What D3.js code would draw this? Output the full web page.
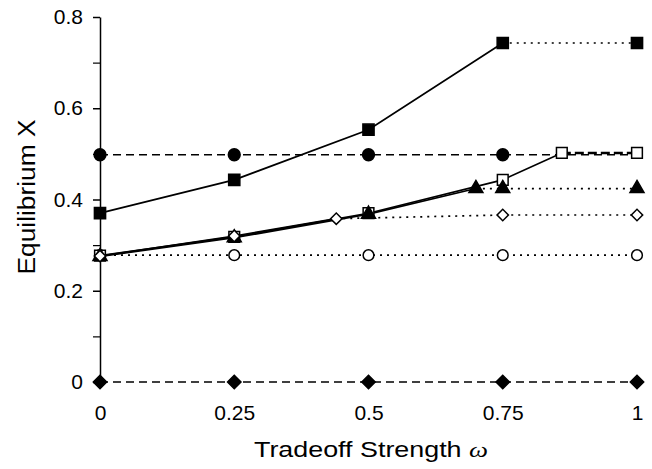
<!DOCTYPE html>
<html>
<head>
<meta charset="utf-8">
<script src="https://cdn.jsdelivr.net/npm/d3@7"></script>
<style>
  body { margin: 0; background: #fff; }
  text { font-family: "Liberation Sans", Arial, sans-serif; fill: #000; }
</style>
</head>
<body>
<svg id="chart" width="652" height="469"></svg>
<script>
// tradeoff strengths and tick labels
var xTicks = [0, 0.25, 0.5, 0.75, 1];
var xTickLabels = ["0", "0.25", "0.5", "0.75", "1"];
var yTicks = [0, 0.2, 0.4, 0.6, 0.8];
var yTickLabels = ["0", "0.2", "0.4", "0.6", "0.8"];

// filled squares
var sqFilledX = [0, 0.25, 0.5, 0.75];
var sqFilledY = [0.37, 0.443, 0.553, 0.743];
var sqFilledTailX = [0.75, 1];
var sqFilledTailY = [0.743, 0.743];

// filled circles
var circFilledX = [0, 0.25, 0.5, 0.75, 1];
var circFilledY = [0.498, 0.498, 0.498, 0.498, 0.498];

// open squares
var sqOpenX = [0, 0.25, 0.5, 0.75, 0.86];
var sqOpenY = [0.277, 0.318, 0.37, 0.443, 0.502];
var sqOpenTailX = [0.86, 1];
var sqOpenTailY = [0.502, 0.502];

// filled triangles
var triX = [0, 0.25, 0.5, 0.7];
var triY = [0.275, 0.316, 0.368, 0.424];
var triTailX = [0.7, 0.75, 1];
var triTailY = [0.424, 0.424, 0.424];

// open diamonds
var diaOpenX = [0, 0.25, 0.44];
var diaOpenY = [0.276, 0.32, 0.358];
var diaOpenTailX = [0.44, 0.75, 1];
var diaOpenTailY = [0.358, 0.366, 0.366];

// open circles
var circOpenX = [0, 0.25, 0.5, 0.75, 1];
var circOpenY = [0.278, 0.278, 0.278, 0.278, 0.278];

// filled diamonds
var diaFilledX = [0, 0.25, 0.5, 0.75, 1];
var diaFilledY = [0, 0, 0, 0, 0];

function pts(xs, ys) { return xs.map(function (x, i) { return { x: x, y: ys[i] }; }); }

var svg = d3.select("#chart");
var margin = { top: 17, left: 100 };
var width = 537, height = 365;
var g = svg.append("g").attr("transform", "translate(" + margin.left + "," + margin.top + ")");

var x = d3.scaleLinear().domain([0, 1]).range([0, width]);
var y = d3.scaleLinear().domain([0, 0.8]).range([height, 0]);

// y axis
var yAxis = g.append("g").call(d3.axisLeft(y).tickValues(yTicks)
    .tickFormat(function (d, i) { return yTickLabels[i]; }).tickSize(7).tickSizeOuter(0));
yAxis.select(".domain").attr("stroke", "#000").attr("stroke-width", 1.5);
yAxis.selectAll(".tick line").attr("stroke-width", 1.5);
yAxis.selectAll("text").style("font-size", "21px").attr("x", -17);
g.append("g").call(d3.axisLeft(y).tickValues([0.1, 0.3, 0.5, 0.7]).tickFormat("").tickSize(7).tickSizeOuter(0))
  .call(function (s) { s.select(".domain").remove(); s.selectAll("line").attr("stroke-width", 1.2); });

// x axis (ticks only)
var xAxis = g.append("g").attr("transform", "translate(0," + height + ")")
  .call(d3.axisBottom(x).tickValues(xTicks).tickFormat(function (d, i) { return xTickLabels[i]; })
    .tickSize(6).tickSizeOuter(0));
xAxis.select(".domain").remove();
xAxis.selectAll(".tick line").attr("stroke-width", 1.5);
xAxis.selectAll("text").style("font-size", "21px").attr("y", 23);

// titles
svg.append("text").attr("transform", "translate(35,197) rotate(-90)")
  .attr("text-anchor", "middle").style("font-size", "23px")
  .attr("textLength", 155).attr("lengthAdjust", "spacingAndGlyphs").text("Equilibrium X");
var xt = svg.append("text").attr("x", 371).attr("y", 457).attr("text-anchor", "middle").style("font-size", "22px")
  .attr("textLength", 234).attr("lengthAdjust", "spacingAndGlyphs");
xt.append("tspan").text("Tradeoff Strength ");
xt.append("tspan").style("font-family", "'Liberation Serif', 'DejaVu Serif', serif").style("font-style", "italic").text("ω");

var line = d3.line().x(function (d) { return x(d.x); }).y(function (d) { return y(d.y); });

function drawLine(data, dash, w) {
  g.append("path").datum(data).attr("d", line).attr("fill", "none")
    .attr("stroke", "#000").attr("stroke-width", w).attr("stroke-dasharray", dash);
}

function drawMarks(data, sym, size, fill, rot) {
  g.selectAll(null).data(data).enter().append("path")
    .attr("d", d3.symbol().type(sym).size(size))
    .attr("transform", function (d) { return "translate(" + x(d.x) + "," + y(d.y) + ")" + (rot ? " rotate(" + rot + ")" : ""); })
    .attr("fill", fill).attr("stroke", "#000").attr("stroke-width", 1.5);
}

// lines
drawLine(pts(diaFilledX, diaFilledY), "8,5", 1.4);
drawLine(pts(circOpenX, circOpenY), "2,5", 1.7);
drawLine(pts(circFilledX, circFilledY), "8,5", 1.4);
drawLine(pts(diaOpenTailX, diaOpenTailY), "2,5", 1.7);
drawLine(pts(triTailX, triTailY), "2,5", 1.7);
drawLine(pts(sqFilledTailX, sqFilledTailY), "2,5", 1.7);
drawLine(pts(sqOpenTailX, sqOpenTailY), "9,4", 2.6);
drawLine(pts(sqFilledX, sqFilledY), null, 1.7);
drawLine(pts(triX, triY), null, 1.6);
drawLine(pts(diaOpenX, diaOpenY), null, 1.6);
drawLine(pts(sqOpenX, sqOpenY), null, 1.6);

// markers
drawMarks(pts(diaFilledX, diaFilledY), d3.symbolSquare, 90, "#000", 45);
drawMarks(pts(circOpenX, circOpenY), d3.symbolCircle, 90, "#fff");
drawMarks(pts(circFilledX.slice(0, 4), circFilledY.slice(0, 4)), d3.symbolCircle, 110, "#000");
drawMarks(pts(sqOpenX, sqOpenY).concat(pts([1], [0.502])), d3.symbolSquare, 115, "#fff");
drawMarks(pts(triX, triY).concat(pts(triTailX.slice(1), triTailY.slice(1))), d3.symbolTriangle, 85, "#000");
drawMarks(pts(diaOpenX, diaOpenY).concat(pts(diaOpenTailX.slice(1), diaOpenTailY.slice(1))), d3.symbolSquare, 65, "#fff", 45);
drawMarks(pts(sqFilledX, sqFilledY).concat(pts([1], [0.743])), d3.symbolSquare, 125, "#000");
</script>
</body>
</html>
